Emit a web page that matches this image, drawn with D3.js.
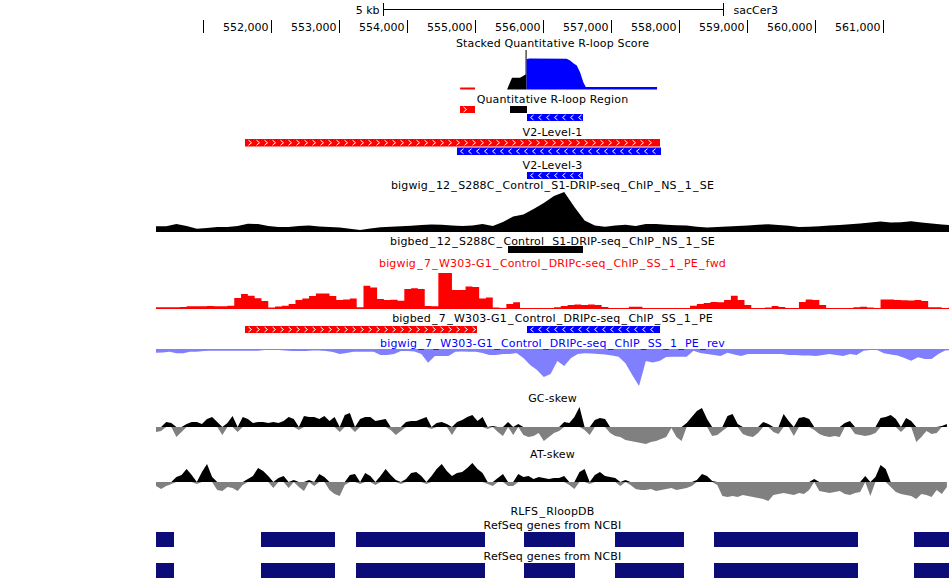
<!DOCTYPE html>
<html><head><meta charset="utf-8">
<script src="https://cdn.jsdelivr.net/npm/d3@7"></script>
<style>
body{margin:0;background:#fff}
text{font-family:"DejaVu Sans",sans-serif;font-size:11px}
</style>
</head><body>
<svg id="c" width="950" height="579"></svg>
<script>
// ---------- data ----------
const REGION = [550310, 561966];
const scaleBar = [553640, 558640];
const scaleBarLabel = "5 kb";
const assembly = "sacCer3";
const rulerTicks = [551000,552000,553000,554000,555000,556000,557000,558000,559000,560000,561000];
const rulerLabels = ["","552,000","553,000","554,000","555,000","556,000","557,000","558,000","559,000","560,000","561,000"];

const titles = {
  stacked: "Stacked Quantitative R-loop Score",
  qregion: "Quantitative R-loop Region",
  v2l1: "V2-Level-1",
  v2l3: "V2-Level-3",
  bw12: "bigwig_12_S288C_Control_S1-DRIP-seq_ChIP_NS_1_SE",
  bb12: "bigbed_12_S288C_Control_S1-DRIP-seq_ChIP_NS_1_SE",
  fwd: "bigwig_7_W303-G1_Control_DRIPc-seq_ChIP_SS_1_PE_fwd",
  bb7: "bigbed_7_W303-G1_Control_DRIPc-seq_ChIP_SS_1_PE",
  rev: "bigwig_7_W303-G1_Control_DRIPc-seq_ChIP_SS_1_PE_rev",
  gc: "GC-skew",
  at: "AT-skew",
  rlfs: "RLFS_RloopDB",
  refseq: "RefSeq genes from NCBI"
};

// stacked score: [position, score]
const stackBlack = [[555470,0],[555543,11.8],[555661,11.8],[555742,15],[555742,39.5],[555757,39.5],[555757,0]];
const stackBlue  = [[555757,0],[555757,30.5],[555800,31],[556347,30.7],[556396,29],[556445,26.3],[556495,24],[556543,17.3],[556591,7.3],[556627,2.5],[557675,2.5],[557675,0]];
const stackRed   = [[554780,0],[554780,2],[555000,2],[555000,0]];

// bed features: [start, end, strand]
const qRegion = [[554780,555000,"+"],[555515,555765,"."],[555765,556590,"-"]];
const v2Level1 = [[551620,557720,"+"],[554735,557735,"-"]];
const v2Level3 = [[555765,556590,"-"]];
const bigbed12 = [[555485,556590,"."]];
const bigbed7 = [[551620,555030,"+"],[555765,557720,"-"]];
const refseqGenes = [[550000,550575],[551854,552941],[553250,555146],[555720,556469],[557057,558072],[558513,560630],[561453,562500]];

// signal tracks (bins)
const bw12Start = 550310, bw12Step = 150;
const bw12 = [5.7,5.7,8,6,3.3,4,5,5,6,8.3,8,6,5,5,6,6.5,5.5,5,4.5,3.3,2,3.5,4.8,5.3,5.7,6.3,7,7.6,7.2,6.5,6,6.5,8,6,10,15.5,17.5,23,29,36,40,25,11.5,6.5,5.2,6.5,7.2,6,8,8,7.2,6.7,6.5,5.2,4.5,5,5.5,6,6.5,7.2,7.7,7,6.2,5,5.3,5.8,6.5,7,7.7,8.5,9.5,10.5,9.5,9.8,10.8,9.5,8.5,7.5,6.7];

const fwdStart = 550310, fwdStep = 100;
const fwd = [1.7,1.7,1.7,1.7,2,2.7,2.7,2.7,3,2.7,2.7,3.3,11,15,13.3,10.7,8,1.5,2.5,3.3,5,9,10.5,13,15.5,15.5,13,9,9.5,10.5,1.7,23.3,21.5,10,9,9.3,8.3,20,20.7,20,3,2.7,36,36,19,19,22.5,22,10.5,11.5,1.5,1,5,6.7,1,0.5,0.5,0.5,1,1.7,3,4,4.5,4,4.5,4,2,0.7,0.7,1,2.3,2.3,0,0,0,0,0,0,0,3.3,5,6,7,6.7,9,13.3,9,4,1,0,1.5,3,2,0.7,0.7,7,9.5,9,4,0.7,0.7,0.7,0.7,1.7,2.3,1.5,0.7,9.5,9.5,9,8.7,8.5,9,8,1.7,1.7,1,1.5];

const revStart = 550310, revStep = 100;
const rev = [3.7,3.5,2.7,4.3,4.3,2.7,2.7,2,1.7,1.7,1.7,1.7,1.7,1.7,1.7,1.7,1,1,1,1.5,2,2,2,1.5,1.5,2,3,5,4,2.7,2.7,2.7,2.7,6,6,5,2,2,2.5,5,13.7,7,7,7,2.7,2.5,2.7,2.7,4,6,6,5,5,4,9,16,21,28,25,12,17,9,5,4.3,4.5,5,5.5,6.5,7.7,14.3,26,37,12,13.5,12,8,7.7,7.7,7.7,1.7,4,5,6,7,3.7,5.5,7,5,5,5,5,5,5,6,6,6.5,6.5,7,6,5,6,7,5,6,1.7,1,1,4.3,5.5,6.5,9,11.7,8.3,10,10,5,1.5,1];

const skewStart = 550310, skewStep = 75;
const gcSkew = [-5,-4,5,4,-10,-5,3,5,5,3,8,10,5,-8,4,11,-5,10,8,4,5,5,4,5,4,6,10,8,-3,11,10,10,8,11,6,10,-5,12,14,-5,8,10,10,6,7,8,-3,-8,-4,5,6,6,8,10,-2,4,5,3,-8,5,7,10,12,6,10,-2,1,-5,-9,5,-8,3,-8,-10,-9,-6,-14,-10,-6,-4,5,4,10,20,-3,-8,7,9,8,-6,-9,-10,-13,-14,-15,-16,-17,-15,-14,-12,-10,-1,-10,-14,4,10,16,19,8,-9,-8,-4,11,13,3,-7,-9,-10,-6,5,3,-5,-7,13,6,-9,9,10,8,-3,-7,-9,-10,-9,-10,4,6,-7,-8,-9,-8,-6,9,10,12,8,-5,9,6,-15,-10,-4,-7,-6,1,3];
const atSkew = [-4,-7,-4,-2,5,7,13,7,-2,10,18,5,-8,-9,-5,-6,-9,-3,3,6,14,11,6,-6,4,6,-6,2,-5,-9,2,-4,8,5,-8,-12,-14,-3,7,8,-2,9,6,-3,6,13,7,2,-2,3,9,10,6,-2,6,13,18,11,6,9,10,14,19,13,9,-2,-4,4,8,-4,-4,8,5,6,3,5,4,3,4,4,6,-3,-7,10,13,-2,7,10,6,5,4,-4,2,-3,-7,-8,-8,-7,-9,-8,-7,-6,-8,-7,-6,-4,2,8,6,1,-3,-14,-15,-14,-15,-13,-14,-15,-16,-17,-19,-13,-12,-11,-12,-13,-11,-12,-8,3,-9,-10,-11,-10,-9,-12,-13,-11,-10,6,-14,5,17,13,-5,-10,-12,-13,-14,-17,-12,-13,-15,-8,-12,-5];

// ---------- drawing ----------
const L = 156, R = 949, CX = (L + R) / 2;
const svg = d3.select("#c");
svg.append("rect").attr("width", 950).attr("height", 579).attr("fill", "#fff");
svg.append("clipPath").attr("id", "clip").append("rect").attr("x", L).attr("y", 0).attr("width", R - L).attr("height", 579);
const x = d3.scaleLinear().domain(REGION).range([L, R]);
const g = svg.append("g").attr("clip-path", "url(#clip)");

function label(txt, y, color) {
  const t = svg.append("text").attr("x", CX).attr("y", y).attr("text-anchor", "middle")
    .attr("fill", color || "#000").attr("letter-spacing", "0.15px");
  const parts = txt.split("_");
  parts.forEach((p, i) => {
    const last = i === parts.length - 1;
    if (last) { if (p) t.append("tspan").text(p); return; }
    if (p.length > 1) t.append("tspan").text(p.slice(0, -1));
    if (p.length) t.append("tspan").attr("letter-spacing", "1.3px").text(p.slice(-1));
    t.append("tspan").attr("letter-spacing", "1.3px").text("_");
  });
}

// ruler
const sb0 = Math.round(x(scaleBar[0])) + 0.5, sb1 = Math.round(x(scaleBar[1])) + 0.5;
svg.append("line").attr("x1", sb0).attr("x2", sb1).attr("y1", 9.5).attr("y2", 9.5).attr("stroke", "#000");
[sb0, sb1].forEach(v => svg.append("line").attr("x1", v).attr("x2", v).attr("y1", 3).attr("y2", 16).attr("stroke", "#000"));
svg.append("text").attr("x", sb0 - 4).attr("y", 14).attr("text-anchor", "end").text(scaleBarLabel);
svg.append("text").attr("x", sb1 + 10).attr("y", 14).text(assembly);
rulerTicks.forEach((t, i) => {
  const xx = Math.round(x(t)) + 0.5;
  svg.append("line").attr("x1", xx).attr("x2", xx).attr("y1", 20).attr("y2", 33).attr("stroke", "#000");
  if (rulerLabels[i]) svg.append("text").attr("x", xx - 3).attr("y", 31).attr("text-anchor", "end").text(rulerLabels[i]);
});

// stacked score
label(titles.stacked, 47);
const stackBase = 89.5;
const sY = d3.scaleLinear().domain([0, 40]).range([stackBase, stackBase - 40]);
const pArea = d3.area().x(d => x(d[0])).y0(stackBase).y1(d => sY(d[1]));
g.append("path").attr("d", pArea(stackRed)).attr("fill", "#ff0000");
g.append("path").attr("d", pArea(stackBlack)).attr("fill", "#000");
g.append("path").attr("d", pArea(stackBlue)).attr("fill", "#0000ff");

// feature tracks
const strandColor = { "+": "#ff0000", "-": "#0000ff", ".": "#000000" };
function features(data, top, rowPitch, h) {
  const sorted = data.slice().sort((a, b) => a[0] - b[0]);
  const rowEnds = [];
  sorted.forEach(f => {
    const x0 = x(f[0]), x1 = x(f[1]);
    let r = 0;
    while (rowEnds[r] !== undefined && rowEnds[r] + 2 > x0) r++;
    rowEnds[r] = x1;
    const y = top + r * rowPitch;
    g.append("rect").attr("x", Math.round(x0)).attr("y", y).attr("width", Math.round(x1) - Math.round(x0)).attr("height", h)
      .attr("fill", strandColor[f[2]]);
    if (f[2] === "+" || f[2] === "-") {
      const cy = y + h / 2;
      const d = f[2] === "+" ? 1 : -1;
      for (let cx = Math.round(x0) + 5; cx < Math.round(x1) - 2; cx += 8) {
        g.append("path").attr("d", `M${cx - 1.5 * d},${cy - 2.5}L${cx + 1.5 * d},${cy}L${cx - 1.5 * d},${cy + 2.5}`)
          .attr("fill", "none").attr("stroke", "#fff").attr("stroke-width", 1);
      }
    }
  });
}
label(titles.qregion, 103);
features(qRegion, 106, 8, 7);
label(titles.v2l1, 136);
features(v2Level1, 139, 8.5, 7.5);
label(titles.v2l3, 169);
features(v2Level3, 172, 8, 7);

// signal helper
function signal(vals, start, step, base, dir, color, curve, clampSign) {
  const area = d3.area()
    .x((d, i) => x(start + i * step))
    .y0(base)
    .y1(d => {
      let v = d;
      if (clampSign === 1) v = Math.max(0, d);
      if (clampSign === -1) v = Math.min(0, d);
      return base - dir * v;
    })
    .curve(curve);
  g.append("path").attr("d", area(vals)).attr("fill", color);
}

// bigwig 12
label(titles.bw12, 189);
signal(bw12, bw12Start, bw12Step, 232, 1, "#000", d3.curveLinear);
label(titles.bb12, 245);
features(bigbed12, 246, 8, 7);

// fwd
label(titles.fwd, 267, "#ff0000");
signal(fwd, fwdStart, fwdStep, 309, 1, "#ff0000", d3.curveStep);
g.append("line").attr("x1", L).attr("x2", R).attr("y1", 308.5).attr("y2", 308.5).attr("stroke", "#ff0000");
label(titles.bb7, 322);
features(bigbed7, 326, 8, 7);

// rev
label(titles.rev, 347, "#0000ff");
g.append("line").attr("x1", L).attr("x2", R).attr("y1", 349.5).attr("y2", 349.5).attr("stroke", "#8080ff");
signal(rev, revStart, revStep, 349, -1, "#8080ff", d3.curveLinear);

// GC skew
label(titles.gc, 402);
signal(gcSkew, skewStart, skewStep, 427, 1, "#000", d3.curveLinear, 1);
signal(gcSkew, skewStart, skewStep, 427, 1, "#808080", d3.curveLinear, -1);

// AT skew
label(titles.at, 458);
signal(atSkew, skewStart, skewStep, 482, 1, "#000", d3.curveLinear, 1);
signal(atSkew, skewStart, skewStep, 482, 1, "#808080", d3.curveLinear, -1);

// RLFS + RefSeq
label(titles.rlfs, 515);
label(titles.refseq, 529);
[532, 563].forEach((y, k) => {
  if (k === 1) label(titles.refseq, 560);
  refseqGenes.forEach(f => {
    g.append("rect").attr("x", Math.round(x(f[0]))).attr("y", y).attr("width", Math.round(x(f[1])) - Math.round(x(f[0])))
      .attr("height", 15).attr("fill", "#0c0c78");
  });
});
</script>
</body></html>
